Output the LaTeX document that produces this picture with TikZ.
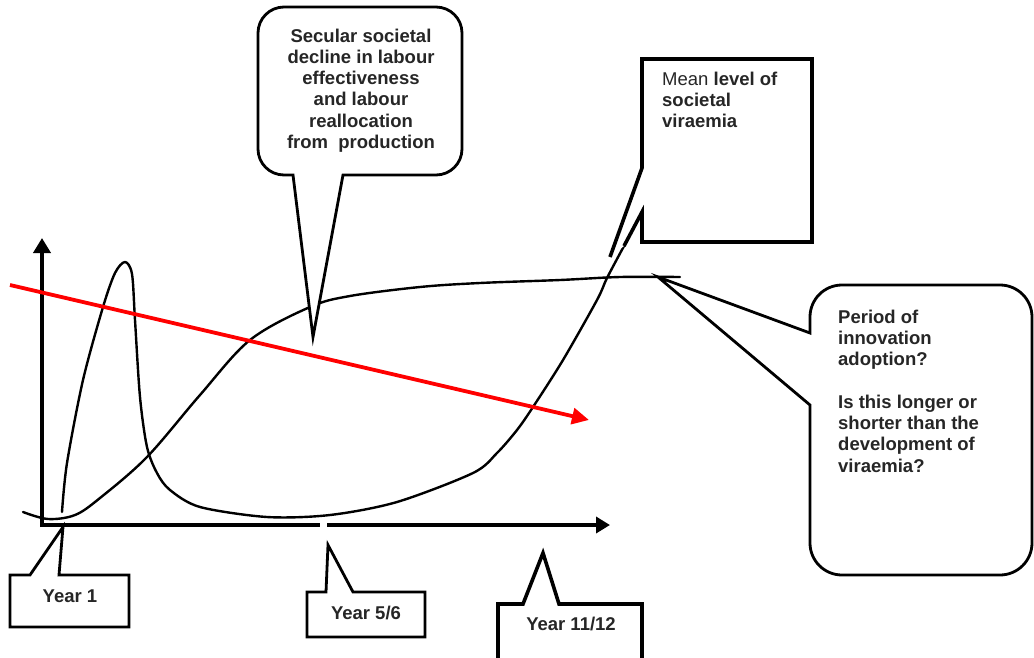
\documentclass[tikz,border=0pt]{standalone}
\usepackage{fontspec}
\setmainfont{Liberation Sans}
\usetikzlibrary{arrows.meta}
\begin{document}
\begin{tikzpicture}[x=1pt,y=-1pt,
  txt/.style={inner sep=0pt, font=\fontsize{18.5}{21.3}\selectfont\bfseries, text=black!85},
  axis/.style={line width=4pt},
  curve/.style={line width=2.4pt, line join=round, line cap=round},
  box/.style={line width=2.8pt, fill=white, line join=miter},
  thickbox/.style={line width=3.6pt, fill=white, line join=miter},
  trend/.style={line width=3.8pt, red, -{Triangle[length=17pt,width=16pt]}}
]
\useasboundingbox (0,0) rectangle (1034,657);

% axes
\coordinate (yb) at (42,527);
\coordinate (yt) at (42,238);
\coordinate (xa) at (40,525);
\coordinate (xg1) at (320,525);
\coordinate (xg2) at (327,525);
\coordinate (xe) at (610,525);
\draw[axis,-{Triangle[length=15pt,width=17pt]}] (yb) -- (yt);
\draw[axis] (xa) -- (xg1);
\draw[axis,-{Triangle[length=14pt,width=16pt]}] (xg2) -- (xe);

% sigmoid: innovation adoption
\draw[curve] plot[smooth, tension=0.55] coordinates {(23,512) (48,519) (75,515) (100,498) (147,457) (200,395) (250,340) (310,307) (350,296) (420,287) (480,283) (560,280) (620,277) (680,277)};

% viraemia curve
\draw[curve] plot[smooth, tension=0.5] coordinates {(62,512) (67,463) (83,380) (103,307) (115,273) (125,262) (132,274) (135,320) (140,397) (147,447) (157,473) (170,490) (200,507) (267,517) (330,515) (397,502) (473,473) (497,453) (517,430) (533,407) (563,360) (597,300) (607,278) (624,246)};

% red trend arrow
\coordinate (rs) at (10,285);
\coordinate (re) at (589,420);
\draw[trend] (rs) -- (re);

% Secular callout
\draw[box] (293,175) [rounded corners=26pt] -- (258,175) -- (258,7) -- (462,7) -- (462,175) [sharp corners] -- (343,175) -- (313,337) -- cycle;
\node[txt, anchor=base] (sec) at (361,42) {\begin{tabular}[t]{@{}c@{}}Secular societal\\decline in labour\\effectiveness\\and labour\\reallocation\\from\ \ production\end{tabular}};

% Mean level callout
\draw[thickbox] (610,257) -- (642,168) -- (642,59) -- (812,59) -- (812,242) -- (642,242) -- (642,212) -- (624,246);
\node[txt, anchor=base west] (mean) at (662,85) {\begin{tabular}[t]{@{}l@{}}{\mdseries Mean} level of\\societal\\viraemia\end{tabular}};

% Period callout
\draw[box] (810,333) [rounded corners=32pt] -- (810,285) -- (1032,285) -- (1032,575) -- (810,575) [sharp corners] -- (810,405) -- (658,277) -- cycle;
\node[txt, anchor=base west] (per) at (838,323) {\begin{tabular}[t]{@{}l@{}}Period of\\innovation\\adoption?\\[21.3pt]Is this longer or\\shorter than the\\development of\\viraemia?\end{tabular}};

% Year 1
\draw[box] (59,575) -- (129,575) -- (129,627) -- (10,627) -- (10,575) -- (30,575) -- (63,527) -- cycle;
\node[txt, anchor=base] (y1) at (70,602) {Year 1};

% Year 5/6
\draw[box] (353,592) -- (425,592) -- (425,637) -- (307,637) -- (307,592) -- (326,592) -- (328,545) -- cycle;
\node[txt, anchor=base] (y56) at (366,619) {Year 5/6};

% Year 11/12
\draw[thickbox] (498,662) -- (498,604) -- (523,604) -- (543,553) -- (559,604) -- (642,604) -- (642,662);
\node[txt, anchor=base] (y1112) at (571,630) {Year 11/12};
\end{tikzpicture}
\end{document}
